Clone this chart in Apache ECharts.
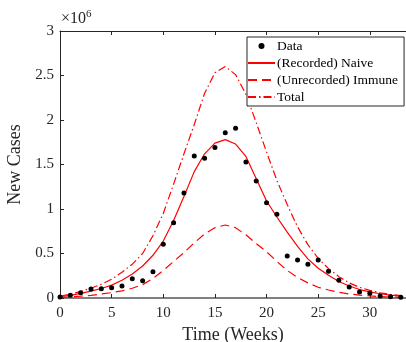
<!DOCTYPE html>
<html>
<head>
<meta charset="utf-8">
<script src="https://cdn.jsdelivr.net/npm/echarts@6/dist/echarts.min.js"></script>
<style>html,body{margin:0;padding:0;background:#fff;}#c{width:406px;height:342px;}</style>
</head>
<body>
<div id="c"></div>
<script>
// Time in weeks
const weeks = [0,1,2,3,4,5,6,7,8,9,10,11,12,13,14,15,16,17,18,19,20,21,22,23,24,25,26,27,28,29,30,31,32,33];
// Recorded data (millions)
const dataCases = [0.01,0.03,0.06,0.10,0.105,0.115,0.135,0.217,0.195,0.296,0.603,0.846,1.18,1.595,1.57,1.69,1.857,1.906,1.528,1.315,1.071,0.94,0.472,0.427,0.378,0.427,0.30,0.199,0.124,0.067,0.053,0.022,0.015,0.008];
// (Recorded) Naive model (millions)
const naive = [0.015,0.03,0.052,0.078,0.107,0.145,0.2,0.27,0.36,0.48,0.64,0.87,1.14,1.42,1.62,1.74,1.78,1.73,1.59,1.34,1.09,0.91,0.74,0.58,0.44,0.335,0.255,0.185,0.135,0.095,0.068,0.048,0.033,0.022];
// (Unrecorded) Immune model (millions)
const immune = [0.005,0.012,0.02,0.03,0.045,0.06,0.08,0.11,0.15,0.22,0.31,0.41,0.51,0.62,0.72,0.79,0.82,0.79,0.71,0.61,0.52,0.41,0.31,0.23,0.17,0.12,0.09,0.065,0.045,0.032,0.023,0.016,0.011,0.008];
// Total model (millions)
const total = [0.02,0.045,0.073,0.11,0.155,0.21,0.29,0.38,0.5,0.7,0.95,1.28,1.62,1.95,2.3,2.53,2.6,2.51,2.29,1.97,1.64,1.32,1.05,0.8,0.6,0.445,0.33,0.24,0.17,0.12,0.085,0.058,0.04,0.028];
const seriesNames = ['Data','(Recorded) Naive','(Unrecorded) Immune','Total'];
const yTicks = [0,0.5,1,1.5,2,2.5,3];

const pairs = a => weeks.map((w,i)=>[w,a[i]]);
const serif = 'Liberation Serif';
const chart = echarts.init(document.getElementById('c'), null, {renderer:'canvas'});
chart.setOption({
  animation:false,
  backgroundColor:'#fff',
  grid:{left:60,right:0,top:31,bottom:44,containLabel:false,outerBoundsMode:'none'},
  graphic:[{type:'text',left:61,top:9,style:{text:'×10{s|6}',font:'16px "Liberation Serif"',fill:'#262626',rich:{s:{fontSize:11,verticalAlign:'top',padding:[0,0,8,0],fontFamily:serif}}}}],
  legend:{
    orient:'vertical',left:247,top:37,
    data:[
      {name:'Data',icon:'circle'},
      {name:'(Recorded) Naive',itemStyle:{opacity:0}},
      {name:'(Unrecorded) Immune',itemStyle:{opacity:0}},
      {name:'Total',itemStyle:{opacity:0}}
    ],
    itemWidth:27,itemHeight:6,itemGap:3,
    borderColor:'#262626',borderWidth:1,padding:[2,6,2,0],
    backgroundColor:'#fff',
    textStyle:{fontFamily:serif,fontSize:13.5,color:'#000',padding:[0,0,0,-3]}
  },
  xAxis:[{
    type:'value',min:0,max:33.5,interval:5,
    axisLine:{lineStyle:{color:'#808080',width:2}},
    axisTick:{inside:true,length:4,lineStyle:{color:'#262626'}},
    axisLabel:{fontFamily:serif,fontSize:15,color:'#262626',margin:8,
      formatter:v=> (Math.abs(v%5)<1e-9? String(v):'')},
    splitLine:{show:false},
    name:'Time (Weeks)',nameLocation:'middle',nameGap:27,
    nameTextStyle:{fontFamily:serif,fontSize:18,color:'#262626'}
  },{
    type:'value',min:0,max:33.5,interval:5,position:'top',
    axisLine:{lineStyle:{color:'#262626',width:1}},
    axisTick:{inside:true,length:4,lineStyle:{color:'#262626'}},
    axisLabel:{show:false},splitLine:{show:false}
  }],
  yAxis:{
    type:'value',min:yTicks[0],max:yTicks[yTicks.length-1],interval:0.5,
    axisLine:{show:true,lineStyle:{color:'#262626',width:1}},
    axisTick:{show:true,inside:true,length:4,lineStyle:{color:'#262626'}},
    axisLabel:{fontFamily:serif,fontSize:15,color:'#262626',margin:6},
    splitLine:{show:false},
    name:'New Cases',nameLocation:'middle',nameGap:26,
    nameTextStyle:{fontFamily:serif,fontSize:18,color:'#262626'}
  },
  series:[
    {name:seriesNames[0],type:'scatter',data:pairs(dataCases),symbol:'circle',symbolSize:5,
      itemStyle:{color:'#000',opacity:1},z:5},
    {name:seriesNames[1],type:'line',data:pairs(naive),symbol:'none',smooth:false,
      lineStyle:{color:'#ff0000',width:1.2,type:'solid'},itemStyle:{color:'#ff0000'}},
    {name:seriesNames[2],type:'line',data:pairs(immune),symbol:'none',smooth:false,
      lineStyle:{color:'#ff0000',width:1.2,type:[9,5]},itemStyle:{color:'#ff0000'}},
    {name:seriesNames[3],type:'line',data:pairs(total),symbol:'none',smooth:false,
      lineStyle:{color:'#ff0000',width:1.2,type:[8,3,1.5,3]},itemStyle:{color:'#ff0000'}}
  ]
});
</script>
</body>
</html>
